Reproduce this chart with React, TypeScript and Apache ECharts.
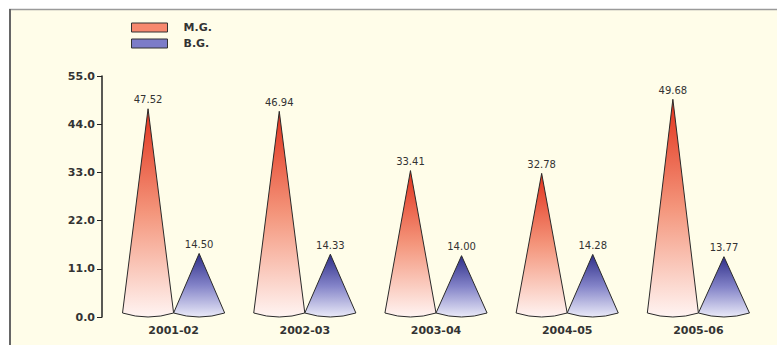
import React, { useEffect, useRef } from "react";
import * as echarts from "echarts";

const categories = ["2001-02", "2002-03", "2003-04", "2004-05", "2005-06"];
const mgValues = [47.52, 46.94, 33.41, 32.78, 49.68];
const bgValues = [14.5, 14.33, 14.0, 14.28, 13.77];
const yMin = 0;
const yMax = 55;
const yStep = 11;

const redStops = [
  { offset: 0, color: "#E2321C" },
  { offset: 0.5, color: "#F4967C" },
  { offset: 1, color: "#FFF4F2" },
];
const blueStops = [
  { offset: 0, color: "#2E2E88" },
  { offset: 0.5, color: "#8383C8" },
  { offset: 1, color: "#EAEAF8" },
];

const FONT = "DejaVu Sans";

function coneRender(side: number, stops: any[]) {
  return (params: any, api: any) => {
    const i = api.value(0);
    const v = api.value(1);
    const apex = api.coord([i, v]);
    const base = api.coord([i, 0]);
    const band = api.size([1, 0])[0];
    const w = (band * 51) / 131;
    const cx = apex[0] + (side * w) / 2;
    const ry = 4;
    const yb = base[1] - ry;
    const d = `M${cx} ${apex[1]} L${cx + w / 2} ${yb} Q${cx} ${base[1] + ry} ${cx - w / 2} ${yb} Z`;
    return {
      type: "group",
      children: [
        {
          type: "path",
          shape: { pathData: d },
          style: {
            fill: new echarts.graphic.LinearGradient(0, 0, 0, 1, stops),
            stroke: "#2a2a2a",
            lineWidth: 1,
          },
        },
        {
          type: "text",
          x: cx,
          y: apex[1] - 4,
          style: {
            text: Number(v).toFixed(2),
            align: "center",
            verticalAlign: "bottom",
            fontSize: 10,
            fontFamily: FONT,
            fill: "#333",
          },
        },
      ],
    };
  };
}

export default function App() {
  const ref = useRef<HTMLDivElement>(null);
  useEffect(() => {
    document.body.style.margin = "0";
    const chart = echarts.init(ref.current!, null, { renderer: "svg" });
    chart.setOption({
      animation: false,
      backgroundColor: "#ffffff",
      graphic: [
        {
          type: "rect",
          z: -10,
          shape: { x: 10, y: 10, width: 800, height: 400 },
          style: { fill: "#FFFDE9" },
        },
        {
          type: "line",
          z: -9,
          shape: { x1: 9, y1: 9.5, x2: 777, y2: 9.5 },
          style: { stroke: "#9a9a9a", lineWidth: 1.5 },
        },
        {
          type: "line",
          z: -9,
          shape: { x1: 10, y1: 9, x2: 10, y2: 345 },
          style: { stroke: "#666", lineWidth: 2 },
        },
      ],
      legend: {
        orient: "vertical",
        left: 126,
        top: 17,
        itemWidth: 36,
        itemHeight: 9,
        itemGap: 5,
        textStyle: {
          fontFamily: FONT,
          fontWeight: "bold",
          fontSize: 11,
          color: "#333",
          padding: [0, 0, 0, 11],
        },
        data: [
          {
            name: "M.G.",
            icon: "rect",
            itemStyle: { color: "#F7886E", borderColor: "#333", borderWidth: 1 },
          },
          {
            name: "B.G.",
            icon: "rect",
            itemStyle: { color: "#7C7CC8", borderColor: "#333", borderWidth: 1 },
          },
        ],
      },
      grid: { left: 108, right: 13, top: 76, bottom: 28, containLabel: false },
      xAxis: {
        type: "category",
        data: categories,
        axisLine: { show: false },
        axisTick: { show: false },
        axisLabel: {
          fontFamily: FONT,
          fontWeight: "bold",
          fontSize: 11,
          color: "#333",
          margin: 8,
        },
      },
      yAxis: {
        type: "value",
        min: yMin,
        max: yMax,
        interval: yStep,
        offset: 6,
        axisLine: { show: true, lineStyle: { color: "#222", width: 1.5 } },
        axisTick: { show: true, length: 5, lineStyle: { color: "#222" } },
        splitLine: { show: false },
        axisLabel: {
          fontFamily: FONT,
          fontWeight: "bold",
          fontSize: 11,
          color: "#333",
          margin: 7,
          formatter: (v: number) => v.toFixed(1),
        },
      },
      series: [
        {
          name: "M.G.",
          type: "custom",
          encode: { x: 0, y: 1 },
          data: mgValues.map((v, i) => [i, v]),
          renderItem: coneRender(-1, redStops),
        },
        {
          name: "B.G.",
          type: "custom",
          encode: { x: 0, y: 1 },
          data: bgValues.map((v, i) => [i, v]),
          renderItem: coneRender(1, blueStops),
        },
      ],
    });
    return () => chart.dispose();
  }, []);
  return <div ref={ref} style={{ width: 777, height: 345 }} />;
}
